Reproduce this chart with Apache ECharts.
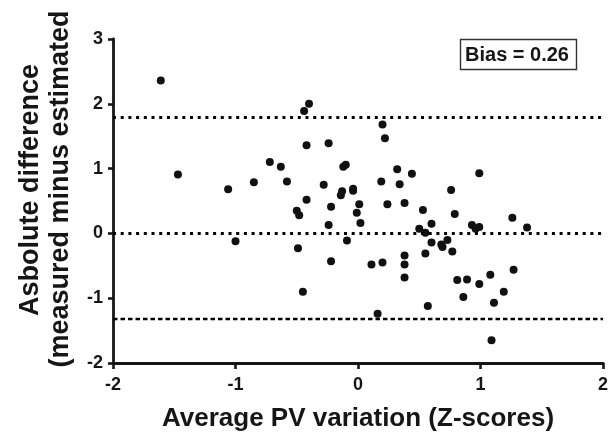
<!DOCTYPE html>
<html><head><meta charset="utf-8">
<script src="https://cdn.jsdelivr.net/npm/echarts@6/dist/echarts.min.js"></script>
<style>html,body{margin:0;padding:0;background:#fff}#c{width:613px;height:437px}</style>
</head><body><div id="c"></div>
<script>
const xValues = [-1.61,-1.47,-1.06,-1.00,-0.85,-0.72,-0.63,-0.58,-0.50,-0.48,-0.49,-0.45,-0.44,-0.40,-0.42,-0.42,-0.28,-0.24,-0.22,-0.24,-0.22,-0.13,-0.14,-0.12,-0.10,-0.04,-0.04,-0.09,0.01,-0.01,0.02,0.11,0.16,0.19,0.20,0.22,0.20,0.24,0.32,0.34,0.38,0.38,0.38,0.38,0.44,0.50,0.53,0.55,0.55,0.57,0.60,0.60,0.68,0.69,0.73,0.76,0.77,0.79,0.81,0.86,0.89,0.93,0.96,0.99,0.99,0.99,1.08,1.09,1.11,1.19,1.26,1.27,1.38];
const yValues = [2.36,0.91,0.68,-0.12,0.79,1.10,1.03,0.80,0.35,0.28,-0.23,-0.90,1.89,2.00,1.36,0.52,0.75,1.39,0.41,0.13,-0.43,0.65,0.59,1.03,1.06,0.69,0.66,-0.11,0.45,0.32,0.16,-0.48,-1.24,0.80,1.68,1.47,-0.45,0.45,0.99,0.76,0.47,-0.34,-0.48,-0.68,0.92,0.07,0.36,0.01,-0.31,-1.12,0.15,-0.14,-0.17,-0.21,-0.10,0.67,-0.28,0.30,-0.72,-0.98,-0.71,0.13,0.07,0.10,0.93,-0.78,-0.64,-1.65,-1.07,-0.90,0.24,-0.56,0.09];
const refLines = [1.80, 0, -1.32];
const biasText = 'Bias = 0.26';
const xTitle = 'Average PV variation (Z-scores)';
const yTitle1 = 'Asbolute difference';
const yTitle2 = '(measured minus estimated';

const FONT = '"Liberation Sans", Arial, sans-serif';
const INK = '#161616';
const chart = echarts.init(document.getElementById('c'), null, {renderer: 'canvas'});
const pts = xValues.map((x, i) => [x, yValues[i]]);
const dotted = {color: '#000', width: 3, type: [3, 4.7]};
chart.setOption({
  animation: false,
  grid: {left: 113, right: 10, top: 39, bottom: 71},
  xAxis: {
    type: 'value', min: -2, max: 2, interval: 1,
    name: xTitle, nameLocation: 'middle', nameGap: 43,
    nameTextStyle: {fontFamily: FONT, fontWeight: 'bold', fontSize: 26, color: INK},
    axisLine: {onZero: false, lineStyle: {color: INK, width: 2.8}},
    axisTick: {length: 6, lineStyle: {color: INK, width: 2.6}},
    axisLabel: {fontFamily: FONT, fontWeight: 'bold', fontSize: 18, color: INK, margin: 13},
    splitLine: {show: false}
  },
  yAxis: {
    type: 'value', min: -2, max: 3, interval: 1,
    axisLine: {show: true, onZero: false, lineStyle: {color: INK, width: 2.8}},
    axisTick: {show: true, length: 5, lineStyle: {color: INK, width: 2.6}},
    axisLabel: {fontFamily: FONT, fontWeight: 'bold', fontSize: 18, color: INK, margin: 10},
    splitLine: {show: false}
  },
  graphic: [
    {type: 'text', x: 31, y: 190, rotation: Math.PI/2,
     style: {text: yTitle1, font: 'bold 27px ' + FONT, fill: INK, align: 'center', verticalAlign: 'middle'}},
    {type: 'text', x: 61, y: 189, rotation: Math.PI/2,
     style: {text: yTitle2, font: 'bold 27px ' + FONT, fill: INK, align: 'center', verticalAlign: 'middle'}},
    {type: 'rect', shape: {x: 460.5, y: 39.5, width: 116, height: 30},
     style: {fill: '#fff', stroke: '#333', lineWidth: 1.4}},
    {type: 'text', x: 517, y: 55, style: {text: biasText, font: 'bold 20px ' + FONT, fill: INK, align: 'center', verticalAlign: 'middle'}}
  ],
  series: [{
    type: 'scatter', data: pts, symbol: 'circle', symbolSize: 8,
    itemStyle: {color: '#111', opacity: 1},
    markLine: {
      silent: true, symbol: ['none', 'none'], label: {show: false},
      data: [
        {yAxis: refLines[0], lineStyle: dotted},
        {yAxis: refLines[1], lineStyle: dotted},
        {yAxis: refLines[2], lineStyle: {color: '#000', width: 2.4, type: [4.5, 3]}}
      ]
    }
  }]
});
</script></body></html>
